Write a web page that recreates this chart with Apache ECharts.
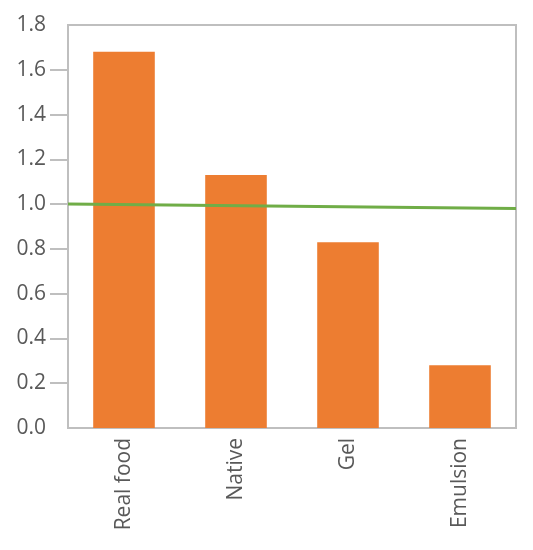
<!DOCTYPE html>
<html>
<head>
<meta charset="utf-8">
<script src="https://cdn.jsdelivr.net/npm/echarts@6/dist/echarts.min.js"></script>
<style>
  html, body { margin: 0; padding: 0; background: #fff; }
  #chart { width: 533px; height: 550px; }
</style>
</head>
<body>
<div id="chart"></div>
<script>
// categories and values
const categories = ['Real food', 'Native', 'Gel', 'Emulsion'];
const barValues = [1.68, 1.13, 0.83, 0.28];
// reference line, from left edge to right edge of the plot
const refLineX = [0, 1];
const refLineY = [1.0, 0.98];
// inner ticks only (no tick drawn at 0.0 or 1.8)
const tickValues = [0.2, 0.4, 0.6, 0.8, 1.0, 1.2, 1.4, 1.6];

const chartDom = document.getElementById('chart');
const myChart = echarts.init(chartDom);
let option;

option = {
  animation: false,
  textStyle: { fontFamily: 'Open Sans' },
  grid: {
    left: 68,
    right: 17,
    top: 25,
    bottom: 122,
    show: true,
    borderColor: '#bfbfbf',
    borderWidth: 2
  },
  xAxis: [
    {
      type: 'category',
      data: categories,
      axisLine: { show: false },
      axisTick: { show: false },
      axisLabel: {
        rotate: 90,
        margin: 10,
        fontSize: 21,
        color: '#595959'
      }
    },
    {
      type: 'value',
      min: 0,
      max: 1,
      show: false
    }
  ],
  yAxis: {
    type: 'value',
    min: 0,
    max: 1.8,
    interval: 0.2,
    splitLine: { show: false },
    axisLine: { show: false },
    axisTick: {
      show: true,
      length: 18,
      customValues: tickValues,
      lineStyle: { color: '#bfbfbf', width: 2 }
    },
    axisLabel: {
      margin: 22,
      fontSize: 21,
      color: '#595959',
      formatter: function (v) { return v.toFixed(1); }
    }
  },
  series: [
    {
      type: 'bar',
      data: barValues,
      barWidth: '55%',
      itemStyle: { color: '#ED7D31' }
    },
    {
      type: 'line',
      xAxisIndex: 1,
      data: refLineX.map((x, i) => [x, refLineY[i]]),
      symbol: 'none',
      lineStyle: { color: '#70AD47', width: 3 }
    }
  ]
};
myChart.setOption(option);
</script>
</body>
</html>
